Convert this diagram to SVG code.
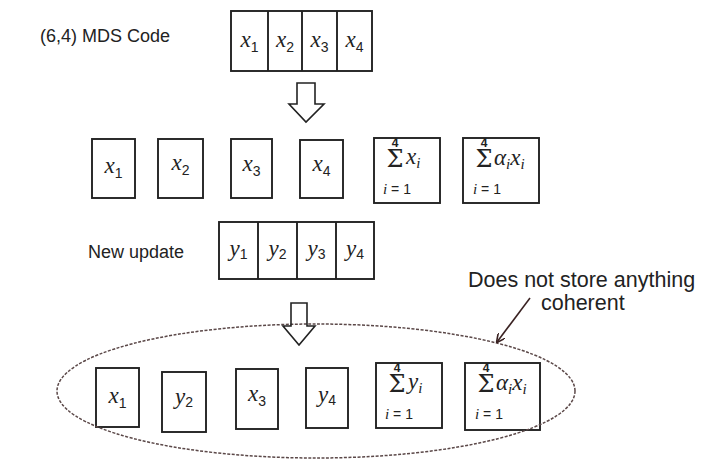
<svg xmlns="http://www.w3.org/2000/svg" width="708" height="461" viewBox="0 0 708 461">
<defs>
<style>
.bx{fill:none;stroke:#222;stroke-width:1.9}
.lbl{font-family:"Liberation Sans",Arial,sans-serif;font-size:18px;fill:#222}
.note{font-family:"Liberation Sans",Arial,sans-serif;font-size:21.5px;fill:#222}
.v{font-family:"Liberation Serif","Times New Roman",serif;font-style:italic;font-size:23px;fill:#222}
.s{font-family:"Liberation Sans",Arial,sans-serif;font-style:normal;font-size:14px}
.si{font-family:"Liberation Serif",serif;font-style:italic;font-size:15px}
.sig{font-family:"DejaVu Serif",serif;font-style:normal;font-size:24px}
.lim{font-family:"Liberation Sans",Arial,sans-serif;font-size:14px;fill:#222}
.up{font-family:"Liberation Sans",Arial,sans-serif;font-style:normal;font-size:12px;font-weight:bold}
.harrow{fill:none;stroke:#222;stroke-width:1.6;stroke-linejoin:miter}
</style>
<marker id="ah" viewBox="0 0 10 10" refX="9" refY="5" markerWidth="9" markerHeight="9" orient="auto" markerUnits="userSpaceOnUse">
<path d="M0,0 L10,5 L0,10" fill="none" stroke="#3a2222" stroke-width="1.8"/>
</marker>
</defs>
<rect width="708" height="461" fill="#fff"/>

<text class="lbl" x="40" y="42">(6,4) MDS Code</text>
<text class="lbl" x="88" y="258">New update</text>
<text class="note" x="468" y="287">Does not store anything</text>
<text class="note" x="541" y="310">coherent</text>

<g id="codeword">
<rect class="bx" x="231" y="11" width="141" height="60"/>
<line class="bx" x1="268" y1="11" x2="268" y2="71"/>
<line class="bx" x1="302" y1="11" x2="302" y2="71"/>
<line class="bx" x1="337" y1="11" x2="337" y2="71"/>
<text class="v" x="249.5" y="47" text-anchor="middle">x<tspan class="s" dy="5">1</tspan></text>
<text class="v" x="285" y="47" text-anchor="middle">x<tspan class="s" dy="5">2</tspan></text>
<text class="v" x="319.5" y="47" text-anchor="middle">x<tspan class="s" dy="5">3</tspan></text>
<text class="v" x="354.5" y="47" text-anchor="middle">x<tspan class="s" dy="5">4</tspan></text>
</g>

<g id="update">
<rect class="bx" x="219" y="222" width="155" height="57"/>
<line class="bx" x1="258" y1="222" x2="258" y2="279"/>
<line class="bx" x1="297" y1="222" x2="297" y2="279"/>
<line class="bx" x1="336" y1="222" x2="336" y2="279"/>
<text class="v" x="238.5" y="256" text-anchor="middle">y<tspan class="s" dy="3">1</tspan></text>
<text class="v" x="277.5" y="256" text-anchor="middle">y<tspan class="s" dy="3">2</tspan></text>
<text class="v" x="316.5" y="256" text-anchor="middle">y<tspan class="s" dy="3">3</tspan></text>
<text class="v" x="355" y="256" text-anchor="middle">y<tspan class="s" dy="3">4</tspan></text>
</g>

<g id="m1"><rect class="bx" x="92" y="139" width="43" height="59"/><text class="v" x="113.5" y="173" text-anchor="middle">x<tspan class="s" dy="5">1</tspan></text></g>
<g id="m2"><rect class="bx" x="158" y="139" width="45" height="59"/><text class="v" x="180.5" y="170" text-anchor="middle">x<tspan class="s" dy="5">2</tspan></text></g>
<g id="m3"><rect class="bx" x="231" y="139" width="41" height="59"/><text class="v" x="251.5" y="171" text-anchor="middle">x<tspan class="s" dy="5">3</tspan></text></g>
<g id="m4"><rect class="bx" x="300" y="140" width="43" height="58"/><text class="v" x="321.5" y="171" text-anchor="middle">x<tspan class="s" dy="5">4</tspan></text></g>
<g id="m5" transform="translate(374,138)">
<rect class="bx" x="0" y="0" width="66" height="65"/>
<text class="v" text-anchor="middle"><tspan class="up" x="21" y="9">4</tspan><tspan class="sig" x="21" y="29">Σ</tspan></text>
<text class="v" x="32" y="26">x<tspan class="si" dy="4">i</tspan></text>
<text class="lim" x="9" y="56"><tspan class="si">i</tspan> = 1</text>
</g>
<g id="m6" transform="translate(463,138)">
<rect class="bx" x="0" y="0" width="76" height="65"/>
<text class="v" text-anchor="middle"><tspan class="up" x="21" y="9">4</tspan><tspan class="sig" x="21" y="29">Σ</tspan></text>
<text class="v" x="31" y="27">α<tspan class="si" dy="4">i</tspan><tspan dy="-4">x</tspan><tspan class="si" dy="4">i</tspan></text>
<text class="lim" x="10" y="56"><tspan class="si">i</tspan> = 1</text>
</g>

<g id="b1"><rect class="bx" x="96" y="368" width="43" height="59"/><text class="v" x="117.5" y="403" text-anchor="middle">x<tspan class="s" dy="5">1</tspan></text></g>
<g id="b2"><rect class="bx" x="162" y="372" width="44" height="60"/><text class="v" x="184" y="404" text-anchor="middle">y<tspan class="s" dy="3">2</tspan></text></g>
<g id="b3"><rect class="bx" x="236" y="369" width="42" height="60"/><text class="v" x="257" y="401" text-anchor="middle">x<tspan class="s" dy="5">3</tspan></text></g>
<g id="b4"><rect class="bx" x="306" y="368" width="42" height="60"/><text class="v" x="327" y="402" text-anchor="middle">y<tspan class="s" dy="3">4</tspan></text></g>
<g id="b5" transform="translate(376,363)">
<rect class="bx" x="0" y="0" width="66" height="65"/>
<text class="v" text-anchor="middle"><tspan class="up" x="21" y="9">4</tspan><tspan class="sig" x="21" y="29">Σ</tspan></text>
<text class="v" x="32" y="26">y<tspan class="si" dy="4">i</tspan></text>
<text class="lim" x="9" y="56"><tspan class="si">i</tspan> = 1</text>
</g>
<g id="b6" transform="translate(465,363)">
<rect class="bx" x="0" y="0" width="75" height="67"/>
<text class="v" text-anchor="middle"><tspan class="up" x="21" y="9">4</tspan><tspan class="sig" x="21" y="29">Σ</tspan></text>
<text class="v" x="31" y="27">α<tspan class="si" dy="4">i</tspan><tspan dy="-4">x</tspan><tspan class="si" dy="4">i</tspan></text>
<text class="lim" x="10" y="56"><tspan class="si">i</tspan> = 1</text>
</g>

<g id="group-ellipse">
<ellipse cx="316" cy="391" rx="259" ry="67" fill="none" stroke="#5b4848" stroke-width="1.5" stroke-dasharray="3 1.5"/>
</g>

<g id="connectors">
<polygon class="harrow" points="297,83 315,83 315,104 324,104 306,122 289,104 297,104"/>
<polygon class="harrow" points="291,303 307,303 307,326 315,326 299,345 283,326 291,326"/>
<line x1="530" y1="298" x2="497" y2="342" stroke="#3a2222" stroke-width="1.6" marker-end="url(#ah)"/>
</g>
</svg>
